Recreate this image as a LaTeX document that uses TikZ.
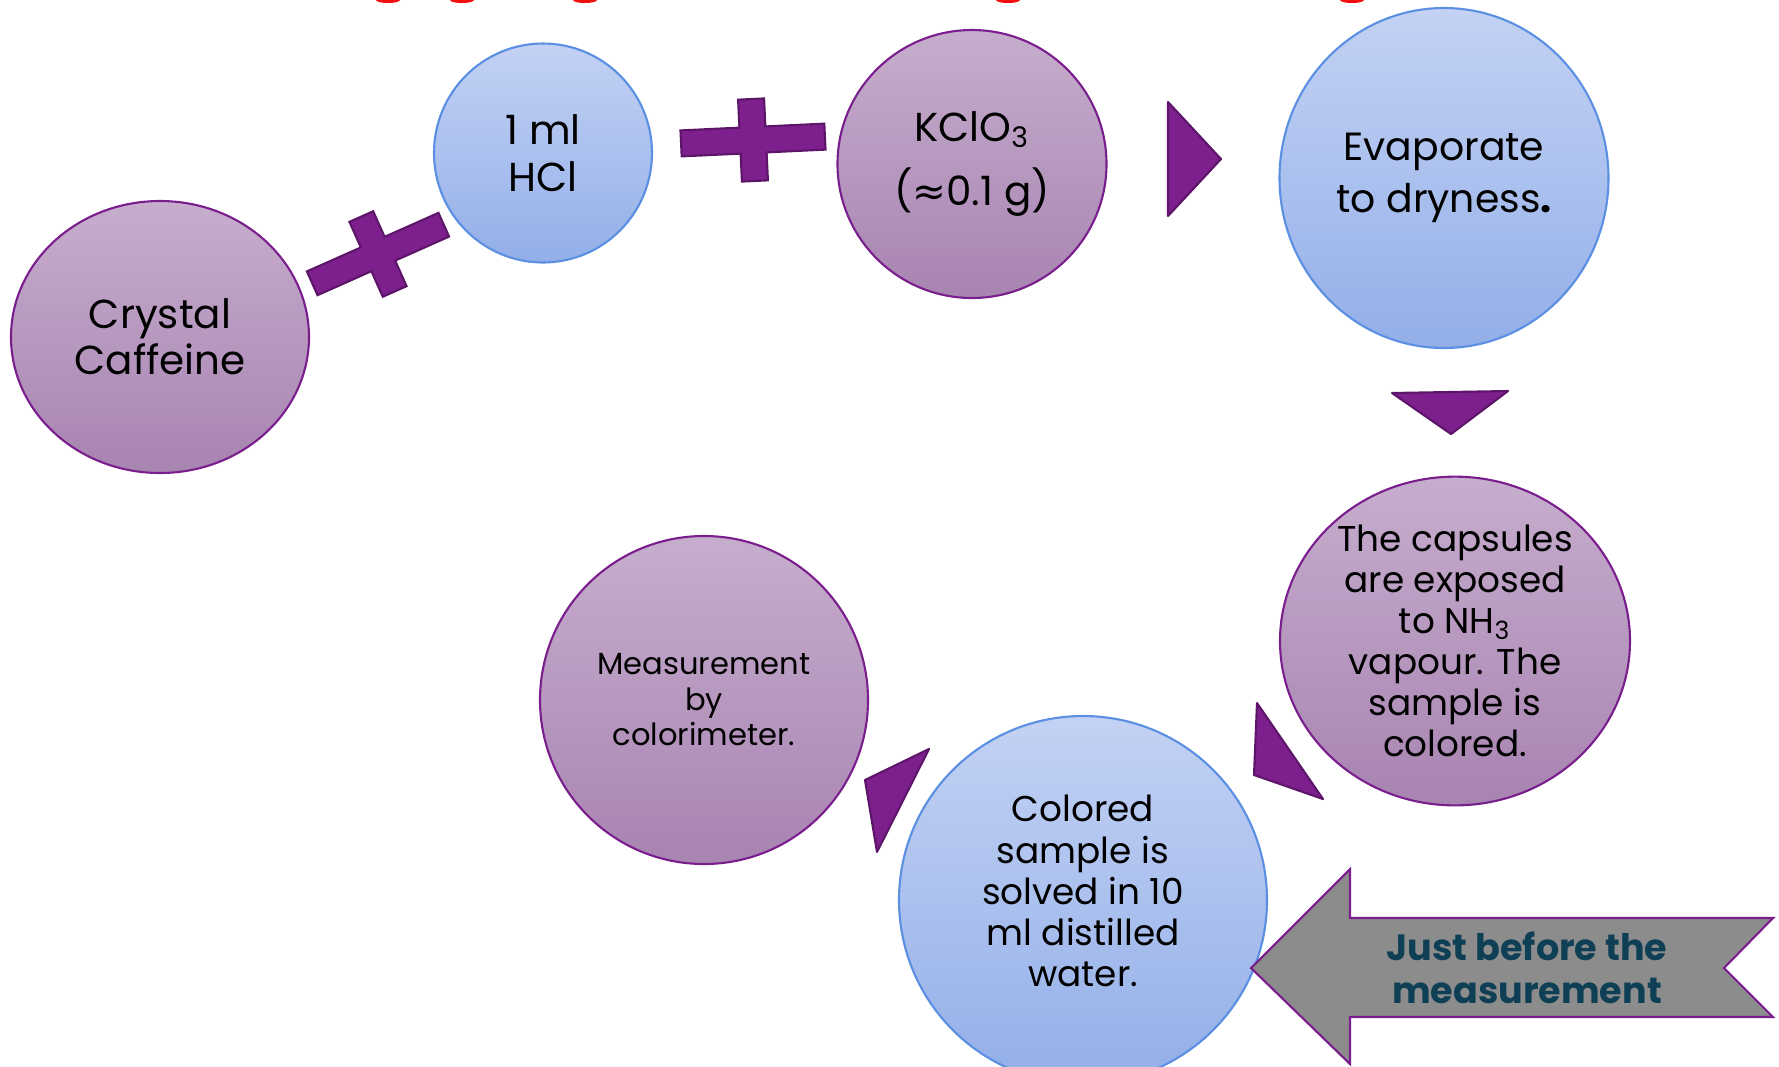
\documentclass[tikz,border=0pt]{standalone}
\usepackage{fontspec}
\setmainfont{Poppins}
\newfontfamily\symfont{DejaVu Sans}
\usepackage{tikz}
\usetikzlibrary{shapes.geometric}
\definecolor{PTop}{HTML}{C6ADCD}
\definecolor{PBot}{HTML}{A884B1}
\definecolor{PEdge}{HTML}{7A1E8E}
\definecolor{BTop}{HTML}{C3D2F4}
\definecolor{BBot}{HTML}{93AFE8}
\definecolor{BEdge}{HTML}{5B8FE2}
\definecolor{Violet}{HTML}{7E1F8E}
\definecolor{VDark}{HTML}{5C1569}
\definecolor{ArrowGray}{HTML}{8C8C8C}
\definecolor{NoteTeal}{HTML}{0F3F54}
\definecolor{TitleRed}{HTML}{F01010}

\tikzset{
  plussign/.pic={
    \filldraw[fill=Violet, draw=VDark, line width=0.6pt]
      (-72,-13) -- (-13,-13) -- (-13,-41) -- (13,-41) -- (13,-13) -- (72,-13)
      -- (72,13) -- (13,13) -- (13,41) -- (-13,41) -- (-13,13) -- (-72,13) -- cycle;
  }
}

\begin{document}
\begin{tikzpicture}[
    x=0.1mm, y=-0.1mm,
    purpleball/.style={ellipse, draw=PEdge, line width=0.6pt, top color=PTop, bottom color=PBot, align=center, inner sep=0pt},
    blueball/.style={ellipse, draw=BEdge, line width=0.6pt, top color=BTop, bottom color=BBot, align=center, inner sep=0pt},
    pointer/.style={fill=Violet, draw=VDark, line width=0.6pt, line join=round},
    bigtxt/.style={font=\fontsize{11.5}{13.2}\selectfont},
    midtxt/.style={font=\fontsize{10.2}{11.7}\selectfont},
    smalltxt/.style={font=\fontsize{8.7}{10.1}\selectfont}
]
\clip (0,0) rectangle (1779,1066);

% cut-off title
\foreach \xc in {388,462,585,1008,1352}
  \fill[TitleRed] (\xc-12,0) arc[start angle=180, end angle=0, x radius=12, y radius=3];

\node[purpleball, bigtxt, minimum width=29.8mm, minimum height=27.2mm] (caffeine) at (160,337) {Crystal\\Caffeine};
\node[blueball, bigtxt, minimum width=21.8mm, minimum height=21.9mm] (hcl) at (543,153) {1 ml\\HCl};
\node[purpleball, bigtxt, minimum width=26.9mm, minimum height=26.8mm] (kclo) at (972,164) {KClO\textsubscript{3}\\[5pt]({\symfont≈}0.1 g)};
\node[blueball, font=\fontsize{11.2}{13.2}\selectfont, minimum width=32.9mm, minimum height=34mm] (evap) at (1444,178) {Evaporate\\[1.5pt]to dryness\textbf{.}};
\node[purpleball, midtxt, minimum width=35mm, minimum height=32.8mm] (capsules) at (1455,641) {The capsules\\are exposed\\to NH\textsubscript{3}\\vapour. The\\sample is\\colored.};
\node[purpleball, smalltxt, minimum width=32.8mm, minimum height=32.8mm] (measure) at (704,700) {Measurement\\by\\colorimeter.};
\node[blueball, minimum width=36.8mm, minimum height=36.8mm] (colored) at (1083,900) {};
\node[midtxt, align=center] (coloredtext) at (1083,891) {Colored\\sample is\\solved in 10\\ml distilled\\water.};

\pic[rotate=24] at (378,254) {plussign};
\pic[rotate=2.7] at (753,140) {plussign};

\filldraw[pointer] (1168,102) -- (1168,216) -- (1221,159) -- cycle;
\filldraw[pointer] (1392,393) -- (1508,391) -- (1451,434) -- cycle;
\filldraw[pointer] (1257,703) -- (1254,775) -- (1323,799) -- cycle;
\filldraw[pointer] (929,749) -- (865,780) -- (877,852) -- cycle;

\filldraw[fill=ArrowGray, draw=PEdge, line width=0.6pt]
  (1251,968) -- (1350,869) -- (1350,918) -- (1773,918) -- (1724,968)
  -- (1773,1017) -- (1350,1017) -- (1350,1064) -- cycle;
\node[text=NoteTeal, align=center, font=\fontsize{10.4}{12.3}\selectfont\bfseries] (note) at (1527,968) {Just before the\\measurement};
\end{tikzpicture}
\end{document}
